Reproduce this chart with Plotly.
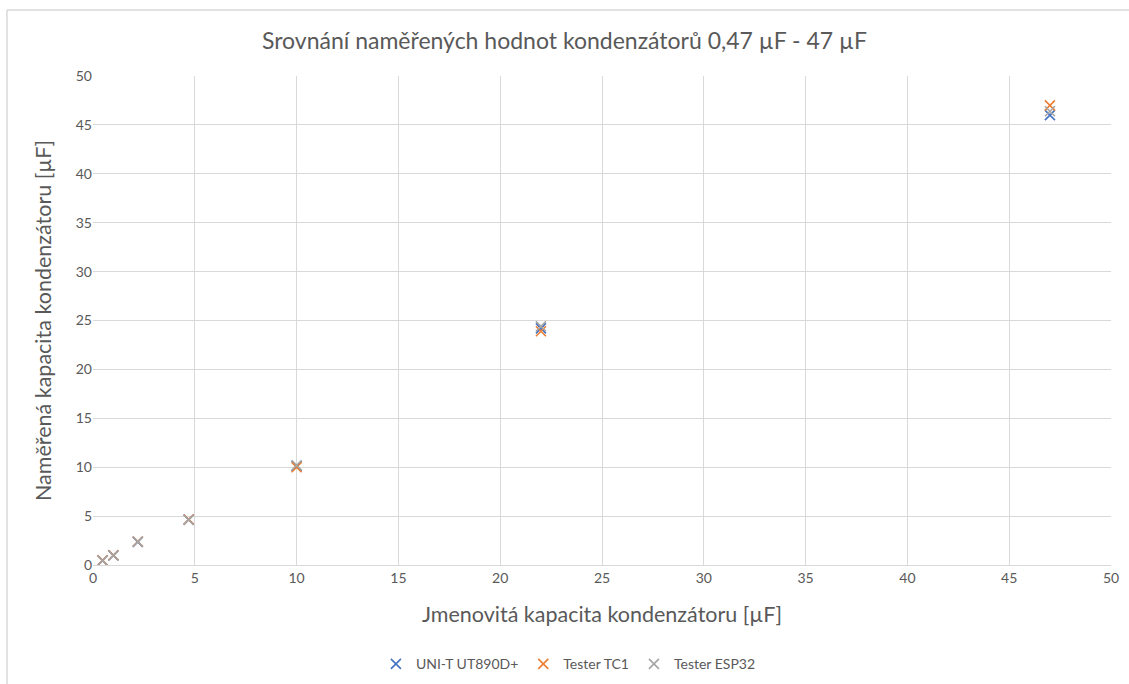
import plotly.graph_objects as go

# Jmenovitá kapacita [µF]
nominal = [0.47, 1, 2.2, 4.7, 10, 22, 47]

# Naměřené hodnoty [µF]
uni_t = [0.46, 0.98, 2.35, 4.65, 10.1, 24.2, 46.0]
tc1 = [0.47, 1.0, 2.4, 4.65, 10.0, 23.9, 47.0]
esp32 = [0.45, 0.97, 2.4, 4.6, 10.2, 24.4, 46.4]

series = [
    ("UNI-T UT890D+", uni_t, "#4472C4"),
    ("Tester TC1", tc1, "#ED7D31"),
    ("Tester ESP32", esp32, "#A5A5A5"),
]

FONT = "Lato, 'Open Sans', sans-serif"

fig = go.Figure()
for name, vals, color in series:
    fig.add_trace(go.Scatter(
        x=nominal, y=vals, mode="markers", name=name,
        marker=dict(symbol="x-thin", size=10, line=dict(color=color, width=1.6), color=color),
    ))

grid = "#D9D9D9"
tick_font = dict(family=FONT, size=14, color="#595959")

fig.update_layout(
    width=1129, height=684,
    margin=dict(l=93, r=18, t=76, b=119, autoexpand=False),
    paper_bgcolor="white", plot_bgcolor="white",
    title=dict(text="Srovnání naměřených hodnot kondenzátorů 0,47 µF - 47 µF",
               x=0.5, xanchor="center", y=0.94, yanchor="middle",
               font=dict(family=FONT, size=23, color="#595959")),
    xaxis=dict(range=[0, 50], dtick=5, showgrid=True, gridcolor=grid, gridwidth=1,
               zeroline=False, showline=True, linecolor=grid, ticks="",
               tickfont=tick_font,
               title=dict(text="Jmenovitá kapacita kondenzátoru [µF]",
                          font=dict(family=FONT, size=21.5, color="#595959"), standoff=22)),
    yaxis=dict(range=[0, 50], dtick=5, showgrid=True, gridcolor=grid, gridwidth=1,
               zeroline=False, showline=False, ticks="",
               tickfont=tick_font,
               title=dict(text="Naměřená kapacita kondenzátoru [µF]",
                          font=dict(family=FONT, size=21.5, color="#595959"), standoff=18)),
    legend=dict(orientation="h", x=0.467, xanchor="center", y=-0.203, yanchor="middle",
                font=dict(family=FONT, size=14, color="#595959"),
                itemwidth=30, tracegroupgap=0),
    showlegend=True,
)

# Chart frame (top and left edges)
frame = dict(color="#D9D9D9", width=1.5)
fig.add_shape(type="line", xref="paper", yref="paper",
              x0=-0.0845, x1=1.2, y0=1.135, y1=1.135, line=frame)
fig.add_shape(type="line", xref="paper", yref="paper",
              x0=-0.0845, x1=-0.0845, y0=1.135, y1=-0.5, line=frame)

fig.write_html("out.html")
